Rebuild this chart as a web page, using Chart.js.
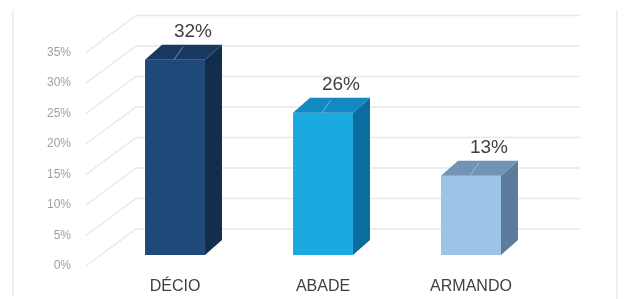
<!DOCTYPE html>
<html>
<head>
<meta charset="utf-8">
<script src="https://cdn.jsdelivr.net/npm/chart.js@4"></script>
<style>
  html, body { margin: 0; padding: 0; background: #fff; }
  #wrap { width: 631px; height: 299px; position: relative; }
</style>
</head>
<body>
<div id="wrap"><canvas id="chart"></canvas></div>
<script>
// Values
const categories = ['DÉCIO', 'ABADE', 'ARMANDO'];
const values = [32, 23.3, 13];           // bar heights as drawn (%)
const valueLabels = ['32%', '26%', '13%']; // data labels as printed
const tickValues = [0, 5, 10, 15, 20, 25, 30, 35];

const frontColors = ['#1f4978', '#1ba9e1', '#9dc3e6'];
const sideColors = ['#132e4c', '#0b6c9f', '#5d7c9b'];
const topColors = ['#17395f', '#1389c3', '#7293b5'];

// depth offsets for the fake 3D look
const BAR_DX = 17, BAR_DY = 15;
const WALL_BACK = { dx: 35, dy: -26 };  // back wall relative to bar front plane
const WALL_FRONT = { dx: -15, dy: 11 }; // label plane relative to bar front plane

const framePlugin = {
    id: 'frame',
    beforeDraw(chart) {
        const ctx = chart.ctx;
        ctx.save();
        ctx.fillStyle = '#fff';
        ctx.fillRect(0, 0, chart.width, chart.height);
        ctx.strokeStyle = '#ececec';
        ctx.lineWidth = 1.5;
        ctx.beginPath();
        ctx.moveTo(13, 10); ctx.lineTo(13, 296);
        ctx.moveTo(617, 10); ctx.lineTo(617, 299);
        ctx.stroke();
        ctx.restore();
    }
};

const wallsPlugin = {
    id: 'walls',
    beforeDatasetsDraw(chart) {
        const ctx = chart.ctx;
        const y = chart.scales.y;
        const area = chart.chartArea;
        ctx.save();
        ctx.strokeStyle = '#e8e8e8';
        ctx.lineWidth = 1.3;
        tickValues.forEach(v => {
            const py = y.getPixelForValue(v);
            ctx.beginPath();
            // left wall diagonal
            ctx.moveTo(area.left + WALL_FRONT.dx, py + WALL_FRONT.dy);
            ctx.lineTo(area.left + WALL_BACK.dx, py + WALL_BACK.dy);
            // back wall horizontal
            ctx.lineTo(area.right + WALL_BACK.dx, py + WALL_BACK.dy);
            ctx.stroke();
        });
        ctx.restore();
    }
};

const bars3dPlugin = {
    id: 'bars3d',
    afterDatasetsDraw(chart) {
        const ctx = chart.ctx;
        const meta = chart.getDatasetMeta(0);
        ctx.save();
        meta.data.forEach((bar, i) => {
            const p = bar.getProps(['x', 'y', 'base', 'width'], true);
            const left = p.x - p.width / 2;
            const right = p.x + p.width / 2;
            // side face
            ctx.fillStyle = sideColors[i];
            ctx.beginPath();
            ctx.moveTo(right, p.y);
            ctx.lineTo(right + BAR_DX, p.y - BAR_DY);
            ctx.lineTo(right + BAR_DX, p.base - BAR_DY);
            ctx.lineTo(right, p.base);
            ctx.closePath();
            ctx.fill();
            // top face
            ctx.fillStyle = topColors[i];
            ctx.beginPath();
            ctx.moveTo(left, p.y);
            ctx.lineTo(left + BAR_DX, p.y - BAR_DY);
            ctx.lineTo(right + BAR_DX, p.y - BAR_DY);
            ctx.lineTo(right, p.y);
            ctx.closePath();
            ctx.fill();
            // leader line
            ctx.strokeStyle = 'rgba(200,215,230,0.55)';
            ctx.lineWidth = 1;
            ctx.beginPath();
            ctx.moveTo(p.x + 8, p.y - 13);
            ctx.lineTo(p.x - 1, p.y);
            ctx.stroke();
            // data label
            ctx.fillStyle = '#404040';
            ctx.font = '19px "Liberation Sans", Arial, sans-serif';
            ctx.textAlign = 'center';
            ctx.textBaseline = 'middle';
            ctx.fillText(valueLabels[i], p.x + 18, p.y - 28);
        });
        ctx.restore();
    }
};

new Chart(document.getElementById('chart'), {
    type: 'bar',
    data: {
        labels: categories,
        datasets: [{
            data: values,
            backgroundColor: frontColors,
            borderWidth: 0,
            barPercentage: 1,
            categoryPercentage: 0.405
        }]
    },
    options: {
        responsive: true,
        maintainAspectRatio: false,
        animation: false,
        layout: {
            padding: { top: 41.5, right: 86, bottom: 0, left: 0 }
        },
        plugins: {
            legend: { display: false },
            tooltip: { enabled: false }
        },
        scales: {
            x: {
                grid: { display: false, drawTicks: false },
                border: { display: false },
                ticks: {
                    color: '#404040',
                    padding: 22,
                    font: { size: 16, family: '"Liberation Sans", Arial, sans-serif' }
                },
                afterFit(scale) { scale.height = 44; }
            },
            y: {
                min: 0,
                max: 35,
                grid: { display: false, drawTicks: false },
                border: { display: false },
                ticks: {
                    stepSize: 5,
                    color: '#a0a0a0',
                    padding: 30,
                    labelOffset: 11,
                    font: { size: 12, family: '"Liberation Sans", Arial, sans-serif' },
                    callback: v => v + '%'
                },
                afterFit(scale) { scale.width = 101; }
            }
        }
    },
    plugins: [framePlugin, wallsPlugin, bars3dPlugin]
});
</script>
</body>
</html>
